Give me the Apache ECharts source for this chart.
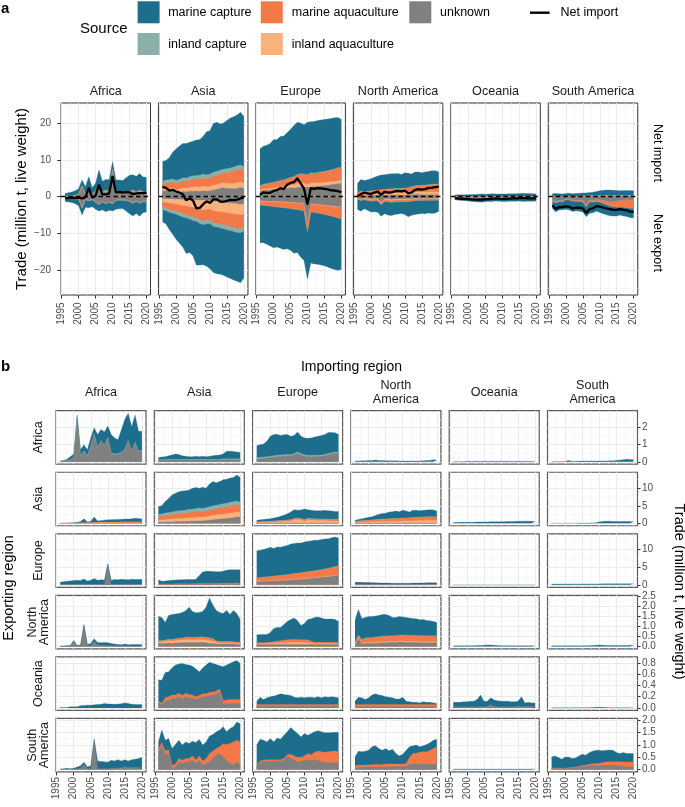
<!DOCTYPE html>
<html><head><meta charset="utf-8">
<script src="https://cdn.jsdelivr.net/npm/echarts@6/dist/echarts.min.js"></script>
<style>html,body{margin:0;padding:0;background:#fff}#c{width:685px;height:807px}</style>
</head><body><div id="c"></div>
<script>
// ---------------- DATA (million t, live weight) ----------------
const years = [1996,1997,1998,1999,2000,2001,2002,2003,2004,2005,2006,2007,2008,2009,2010,2011,2012,2013,2014,2015,2016,2017,2018,2019,2020];
const regionKeys = ['AF','AS','EU','NA','OC','SA'];
const regionNames = ['Africa','Asia','Europe','North America','Oceania','South America'];
const regionNamesB = ['Africa','Asia','Europe','North\nAmerica','Oceania','South\nAmerica'];
const sourceKeys = ['unk','iaq','maq','icap','mcap'];
const sourceNames = ['unknown','inland aquaculture','marine aquaculture','inland capture','marine capture'];
const sourceColors = ['#808080','#F9B27D','#F47948','#8BB0AA','#1C6E8C'];
const xMajor = [1995,2000,2005,2010,2015,2020];
const xMinor = [1997.5,2002.5,2007.5,2012.5,2017.5];
const aMajor = [-20,-10,0,10,20];
const aMinor = [-25,-15,-5,5,15,25];
const bMajor = [[0,1,2],[0,5,10],[0,5,10],[0,0.5,1,1.5,2,2.5],[0,0.2,0.4,0.6,0.8],[0,0.5,1,1.5,2]];
const bMinor = [[0.5,1.5,2.5],[2.5,7.5,12.5],[2.5,7.5,12.5],[0.25,0.75,1.25,1.75,2.25],[0.1,0.3,0.5,0.7],[0.25,0.75,1.25,1.75]];

// exporter_importer_source
const AF_AF_unk  = [.02,.03,.05,.1,.2,2.6,.3,.6,.3,.9,1.6,.8,1.2,.9,1.4,.5,.4,.45,.5,.7,1.2,.6,1.1,.6,.6];
const AF_AF_icap = [.01,.01,.02,.03,.04,.05,.05,.05,.05,.05,.05,.05,.05,.05,.05,.05,.05,.05,.05,.05,.05,.05,.05,.05,.05];
const AF_AF_mcap = [.02,.04,.08,.17,.21,.1,.35,.35,.35,.45,.35,.75,.65,.8,.65,1.05,.95,.8,1.35,1.75,1.6,1.4,1.6,1.15,1.15];
const AF_AS_unk  = [.1,.1,.1,.1,.1,.1,.1,.1,.1,.1,.1,.1,.1,.1,.1,.1,.1,.1,.1,.12,.12,.12,.12,.12,.12];
const AF_AS_icap = [.04,.04,.04,.05,.05,.05,.05,.05,.05,.05,.05,.05,.05,.05,.05,.05,.05,.05,.05,.05,.05,.05,.05,.05,.05];
const AF_AS_mcap = [.11,.14,.16,.2,.25,.3,.27,.2,.17,.15,.15,.17,.15,.17,.15,.18,.2,.23,.25,.28,.45,.45,.43,.41,.38];
const AF_EU_unk  = [.15,.18,.2,.22,.25,.28,.3,.32,.33,.35,.35,.4,.5,.4,.33,.3,.3,.3,.3,.32,.35,.4,.45,.5,.48];
const AF_EU_icap = [.08,.08,.08,.08,.08,.08,.08,.08,.08,.08,.08,.08,.08,.08,.08,.08,.08,.08,.08,.08,.08,.08,.08,.08,.08];
const AF_EU_mcap = [.72,.74,.77,.9,1.17,1.24,1.24,1.15,1.17,1.17,1.07,1.07,1.17,1.02,.99,1.0,1.02,1.07,1.12,1.15,1.17,1.24,1.19,1.12,1.04];
const AF_NA_mcap = [.05,.05,.06,.06,.07,.08,.1,.08,.07,.06,.06,.06,.06,.05,.05,.05,.05,.05,.05,.05,.06,.07,.08,.12,.1];
const AF_OC_mcap = [.02,.02,.02,.02,.03,.03,.03,.03,.03,.03,.03,.03,.03,.03,.03,.03,.03,.03,.03,.03,.03,.03,.03,.03,.03];
const AF_SA_mcap = [.01,.01,.01,.01,.02,.08,.03,.03,.04,.05,.05,.05,.05,.05,.05,.05,.05,.06,.06,.08,.1,.12,.15,.14,.12];

const AS_AF_unk  = [.01,.01,.01,.02,.02,.03,.05,.05,.05,.05,.05,.05,.05,.05,.05,.05,.05,.05,.05,.05,.05,.05,.05,.05,.05];
const AS_AF_iaq  = [0,0,.01,.02,.03,.04,.05,.05,.06,.07,.08,.09,.1,.1,.1,.1,.1,.1,.1,.1,.1,.1,.1,.1,.1];
const AS_AF_maq  = [0,.01,.02,.03,.04,.06,.08,.1,.12,.14,.16,.18,.2,.2,.22,.24,.25,.26,.27,.28,.28,.3,.3,.3,.28];
const AS_AF_mcap = [.01,.01,.01,.03,.06,.17,.32,1.1,.17,.34,1.51,.38,.45,.55,.63,.66,.7,.69,.73,.77,.77,.85,1.0,.95,.77];
const AS_AS_unk  = [.3,.3,.35,.4,.4,.45,.5,.5,.55,.6,.6,.65,.7,.7,.8,.9,1.0,1.1,1.2,1.3,1.4,1.5,1.6,1.8,1.7];
const AS_AS_iaq  = [.6,.65,.7,.75,.8,.85,.9,.9,.95,1.0,1.0,1.05,1.1,1.05,1.1,1.15,1.2,1.25,1.3,1.3,1.35,1.4,1.45,1.5,1.4];
const AS_AS_maq  = [.9,1.0,1.1,1.15,1.2,1.3,1.3,1.35,1.4,1.5,1.5,1.55,1.6,1.5,1.6,1.7,1.7,1.8,1.8,1.9,1.9,2.0,2.1,2.0,1.9];
const AS_AS_icap = [.7,.75,.8,.8,.85,.85,.9,.9,.9,.95,.95,1.0,1.0,1.0,1.0,1.0,1.05,1.05,1.05,1.1,1.1,1.1,1.1,1.1,1.0];
const AS_AS_mcap = [2.3,2.3,3.25,4.0,4.85,5.15,5.4,5.55,5.5,5.45,5.95,5.95,5.6,6.05,5.5,6.45,6.95,6.4,6.55,6.8,6.85,6.9,6.85,7.4,7.1];
const AS_EU_unk  = [.1,.1,.1,.1,.1,.1,.1,.1,.1,.1,.1,.1,.1,.1,.1,.1,.1,.1,.1,.1,.1,.1,.1,.1,.1];
const AS_EU_iaq  = [.15,.18,.2,.22,.25,.3,.35,.4,.45,.5,.6,.9,1.0,.9,.5,.9,.8,.75,.7,.7,.7,.65,.6,.6,.6];
const AS_EU_maq  = [.1,.12,.15,.15,.18,.2,.22,.25,.28,.3,.3,.35,.35,.35,.4,.4,.4,.4,.4,.4,.4,.4,.4,.4,.4];
const AS_EU_icap = [.05,.05,.05,.05,.05,.05,.05,.05,.05,.05,.05,.05,.05,.05,.05,.05,.05,.05,.05,.05,.05,.05,.05,.05,.05];
const AS_EU_mcap = [.5,.55,.6,.68,.72,.85,.98,1.2,1.42,1.75,2.15,2.5,2.2,2.4,3.05,2.45,2.35,2.3,2.35,2.35,2.45,2.4,2.35,2.25,2.25];
const AS_NA_unk  = [.1,.1,.1,.1,.1,.1,.1,.1,.1,.1,.1,.1,.1,.1,.1,.1,.1,.1,.1,.1,.1,.1,.1,.1,.1];
const AS_NA_iaq  = [.2,.22,.25,.28,.3,.33,.36,.4,.42,.45,.48,.5,.52,.5,.55,.58,.6,.62,.65,.68,.7,.72,.75,.72,.7];
const AS_NA_maq  = [.3,.33,.36,.4,.45,.5,.55,.6,.62,.65,.7,.72,.75,.72,.8,.82,.85,.88,.9,.92,.95,.98,1.0,1.0,.95];
const AS_NA_icap = [.05,.05,.05,.05,.05,.05,.05,.05,.05,.05,.05,.05,.05,.05,.05,.05,.05,.05,.05,.05,.05,.05,.05,.05,.05];
const AS_NA_mcap = [.25,.4,.54,.67,.8,.92,1.14,1.45,1.61,1.65,1.87,1.93,2.08,1.93,2.2,1.95,1.6,2.05,2.0,1.85,1.9,1.95,2.0,1.93,1.7];
const AS_OC_mcap = [.25,.27,.28,.3,.3,.32,.33,.35,.36,.38,.4,.42,.43,.45,.45,.48,.5,.52,.55,.58,.6,.62,.6,.58,.5];
const AS_SA_mcap = [.03,.03,.03,.04,.04,.05,.05,.05,.06,.06,.07,.08,.1,.2,.4,.55,.6,.6,.55,.55,.5,.5,.5,.5,.45];

const EU_AF_unk  = [.1,.1,.1,.1,.1,.1,.1,.1,.1,.1,.1,.1,.1,.1,5.6,.1,.1,.1,.1,.1,.1,.1,.1,.1,.1];
const EU_AF_mcap = [.6,.8,.9,1.0,1.1,1.2,1.1,1.55,1.0,1.2,1.65,1.2,1.3,1.25,.3,1.2,1.4,1.3,1.5,1.4,1.3,1.5,1.4,1.4,1.5];
const EU_AS_unk  = [.08,.08,.08,.08,.08,.08,.08,.08,.08,.08,.08,.08,.08,.08,.08,.08,.08,.08,.08,.08,.08,.08,.08,.08,.08];
const EU_AS_maq  = [.15,.15,.15,.15,.18,.2,.2,.2,.22,.22,.25,.25,.28,.3,.3,.3,.32,.32,.35,.35,.38,.4,.4,.42,.42];
const EU_AS_mcap = [1.17,.77,.87,.97,1.04,1.07,1.12,1.17,1.2,1.2,1.17,1.22,2.24,3.22,3.42,3.42,3.35,3.3,3.27,3.37,3.64,3.72,3.72,3.7,3.7];
const EU_EU_unk  = [.9,.95,1.0,1.0,1.05,1.1,1.15,1.2,1.25,1.3,1.35,1.4,1.5,1.55,1.6,1.7,1.8,1.9,2.0,2.1,2.2,2.3,2.4,2.5,2.6];
const EU_EU_iaq  = [.15,.15,.15,.15,.15,.15,.15,.15,.15,.15,.15,.15,.15,.15,.15,.15,.15,.15,.15,.15,.15,.15,.15,.15,.15];
const EU_EU_maq  = [.85,.9,.95,1.05,1.1,1.15,1.2,1.25,1.3,1.35,1.45,1.55,1.55,1.65,1.75,1.75,1.8,1.85,1.9,1.95,2.05,2.15,2.25,2.45,2.45];
const EU_EU_icap = [.05,.05,.05,.05,.05,.05,.05,.05,.05,.05,.05,.05,.05,.05,.05,.05,.05,.05,.05,.05,.05,.05,.05,.05,.05];
const EU_EU_mcap = [7.55,7.65,7.75,7.95,8.15,7.75,8.05,7.85,8.05,8.15,8.4,8.45,8.45,8.3,8.45,8.55,8.5,8.55,8.4,8.45,8.35,8.25,8.35,8.25,7.85];
const EU_NA_maq  = [0,0,0,0,0,0,0,0,0,0,0,0,0,0,0,0,0,.02,.03,.04,.05,.06,.08,.1,.1];
const EU_NA_mcap = [.7,.72,.7,.68,.65,.62,.6,.55,.5,.5,.5,.45,.45,.45,.45,.45,.48,.47,.47,.5,.5,.5,.52,.5,.5];
const EU_OC_mcap = [.04,.04,.04,.04,.04,.04,.04,.04,.04,.04,.04,.04,.04,.04,.04,.04,.04,.04,.04,.04,.04,.04,.04,.04,.04];
const EU_SA_mcap = [.22,.22,.22,.23,.23,.24,.24,.25,.25,.25,.26,.26,.27,.27,.27,.28,.28,.28,.28,.28,.29,.29,.29,.3,.3];

const NA_AF_unk  = [.02,.02,.03,.05,.28,.03,.04,1.05,.04,.05,.25,.08,.06,.06,.05,.04,.03,.03,.02,.03,.02,.02,.02,.02,.02];
const NA_AF_mcap = [0,0,0,0,.02,.02,.04,.05,.06,.1,.13,.12,.12,.14,.13,.11,.09,.07,.06,.09,.06,.08,.08,.08,.08];
const NA_AS_unk  = [.15,.15,.15,.17,.15,.17,.18,.18,.2,.2,.18,.2,.2,.2,.18,.15,.15,.12,.12,.12,.12,.12,.12,.1,.1];
const NA_AS_iaq  = [.08,.08,.1,.12,.12,.12,.14,.14,.15,.15,.15,.15,.15,.14,.14,.14,.12,.08,.06,.06,.06,.06,.05,.05,.05];
const NA_AS_maq  = [.04,.05,.05,.05,.06,.08,.08,.08,.1,.1,.1,.1,.1,.12,.12,.12,.1,.06,.05,.05,.05,.05,.05,.05,.05];
const NA_AS_icap = [.02,.02,.02,.02,.02,.02,.02,.02,.02,.02,.02,.02,.02,.02,.02,.02,.02,.02,.02,.02,.02,.02,.02,.02,.02];
const NA_AS_mcap = [1.21,1.15,.88,1.19,1.25,1.23,1.23,1.28,1.31,1.48,1.3,1.21,1.23,1.27,1.49,1.99,1.66,1.52,1.45,1.4,1.55,1.35,1.56,1.43,1.13];
const NA_EU_unk  = [.1,.1,.1,.1,.1,.1,.1,.1,.1,.1,.1,.1,.1,.1,.1,.1,.1,.1,.1,.1,.1,.1,.1,.1,.1];
const NA_EU_iaq  = [.05,.05,.05,.05,.06,.06,.07,.08,.09,.1,.1,.1,.1,.1,.1,.08,.06,.05,.05,.05,.05,.05,.05,.05,.05];
const NA_EU_maq  = [.03,.03,.04,.05,.06,.08,.1,.1,.12,.14,.15,.16,.15,.14,.14,.15,.1,.06,.06,.06,.06,.06,.06,.06,.06];
const NA_EU_mcap = [.4,.42,.41,.4,.48,.66,.68,.67,.79,.91,1.0,1.06,.93,.71,.81,1.02,1.12,1.24,1.26,1.21,1.16,1.16,1.16,1.14,1.04];
const NA_NA_unk  = [.05,.4,.12,.15,.15,.15,.16,.17,.18,.18,.2,.2,.2,.22,.22,.2,.2,.2,.2,.18,.18,.18,.18,.18,.18];
const NA_NA_iaq  = [.03,.05,.05,.05,.05,.05,.05,.05,.05,.05,.05,.05,.05,.05,.05,.05,.05,.05,.05,.05,.05,.05,.05,.05,.05];
const NA_NA_maq  = [.1,.1,.15,.2,.22,.22,.24,.25,.26,.27,.26,.26,.27,.27,.28,.29,.28,.28,.28,.28,.28,.28,.28,.28,.27];
const NA_NA_icap = [.02,.02,.02,.02,.02,.02,.02,.02,.02,.02,.02,.02,.02,.02,.02,.02,.02,.02,.02,.02,.02,.02,.02,.02,.02];
const NA_NA_mcap = [1.1,1.28,1.06,1.03,1.06,1.06,1.05,1.06,1.09,1.08,1.02,.92,.91,.94,.9,.89,.87,.85,.83,.8,.82,.77,.75,.72,.68];
const NA_OC_mcap = [.03,.03,.03,.03,.04,.04,.04,.05,.05,.06,.07,.07,.06,.05,.04,.04,.04,.04,.03,.03,.03,.03,.03,.03,.03];
const NA_SA_mcap = [.03,.03,.03,.03,.03,.03,.03,.03,.03,.03,.04,.04,.05,.06,.07,.06,.05,.05,.05,.05,.05,.05,.05,.06,.06];

const OC_AF_mcap = [.01,.01,.01,.02,.02,.02,.04,.045,.05,.05,.055,.06,.065,.08,.07,.07,.065,.07,.075,.09,.08,.065,.06,.06,.06];
const OC_AS_unk  = [.09,.05,.12,.13,.17,.17,.2,.16,.2,.18,.17,.15,.17,.2,.2,.22,.22,.25,.28,.08,.08,.08,.08,.08,.08];
const OC_AS_maq  = [.04,.03,.06,.07,.06,.06,.06,.06,.06,.06,.06,.05,.05,.05,.05,.06,.06,.05,.05,.05,.06,.07,.07,.07,.07];
const OC_AS_mcap = [.37,.41,.45,.44,.48,.53,.52,.57,.51,.52,.51,.49,.42,.46,.51,.53,.51,.47,.42,.6,.62,.64,.67,.69,.64];
const OC_EU_unk  = [.03,.03,.03,.03,.03,.03,.03,.03,.03,.03,.03,.03,.03,.03,.03,.03,.03,.03,.03,.03,.03,.03,.03,.03,.03];
const OC_EU_maq  = [.03,.03,.03,.03,.03,.03,.03,.03,.03,.03,.03,.03,.03,.03,.03,.03,.03,.03,.03,.03,.03,.03,.03,.03,.03];
const OC_EU_mcap = [.06,.13,.09,.12,.14,.15,.17,.19,.18,.17,.16,.13,.12,.13,.12,.13,.13,.12,.14,.12,.14,.13,.14,.13,.12];
const OC_NA_unk  = [.02,.02,.02,.02,.02,.02,.02,.02,.02,.02,.02,.02,.02,.02,.02,.02,.02,.02,.02,.02,.02,.02,.02,.02,.02];
const OC_NA_maq  = [.04,.04,.04,.04,.04,.04,.04,.04,.04,.04,.04,.04,.04,.04,.04,.04,.04,.04,.04,.04,.04,.04,.04,.04,.04];
const OC_NA_mcap = [.06,.13,.12,.09,.12,.17,.19,.17,.16,.14,.13,.12,.1,.1,.13,.06,.05,.04,.04,.03,.05,.04,.04,.03,.02];
const OC_OC_unk  = [.02,.02,.02,.02,.02,.02,.02,.02,.02,.02,.03,.06,.03,.02,.02,.02,.02,.02,.02,.03,.03,.03,.03,.03,.03];
const OC_OC_mcap = [.08,.08,.08,.09,.09,.1,.1,.13,.21,.1,.09,.12,.11,.11,.1,.1,.1,.09,.09,.09,.17,.06,.07,.06,.06];
const OC_SA_mcap = [.003,.003,.003,.003,.003,.003,.003,.003,.003,.003,.004,.005,.008,.012,.015,.012,.008,.006,.005,.004,.004,.004,.004,.004,.004];

const SA_AF_unk  = [.01,.01,.02,.01,.02,.03,.05,.2,.03,.03,1.2,.03,.03,.03,.03,.04,.05,.06,.07,.1,.08,.08,.08,.08,.08];
const SA_AF_mcap = [.01,.02,.03,.02,.03,.07,.1,.1,.07,.12,.05,.32,.3,.29,.27,.34,.3,.34,.28,.3,.27,.32,.34,.37,.42];
const SA_AS_unk  = [.65,.99,.58,.65,.04,.1,.31,.25,.31,.31,.38,.24,.38,.18,.25,.31,.45,.58,.65,.51,.38,.24,.2,.31,.2];
const SA_AS_maq  = [.15,.11,.17,.15,.12,.12,.14,.13,.14,.14,.17,.16,.17,.17,.2,.34,.3,.27,.27,.54,.62,.81,.92,.88,.92];
const SA_AS_mcap = [.32,.5,.44,.46,.69,.79,.74,.61,.67,.6,.6,.7,.67,.64,.67,.71,.67,.68,.68,.68,.53,.61,.61,.74,.74];
const SA_EU_unk  = [.18,.3,.33,.34,.34,.34,.34,.34,.38,.54,.45,.4,.31,.33,.38,.38,.38,.38,.38,.31,.27,.27,.27,.27,.27];
const SA_EU_maq  = [.02,.05,.05,.06,.06,.06,.06,.06,.07,.06,.17,.15,.19,.17,.17,.27,.22,.32,.37,.41,.43,.45,.47,.48,.45];
const SA_EU_mcap = [.79,.88,.81,.72,.86,.72,.88,.83,.94,.93,1.08,1.02,.96,.82,.91,.74,.86,.83,.82,.81,.79,.77,.76,.76,.78];
const SA_NA_unk  = [.06,.08,.09,.1,.1,.1,.1,.1,.1,.1,.11,.12,.12,.12,.12,.13,.2,.24,.23,.22,.22,.21,.21,.21,.2];
const SA_NA_maq  = [.09,.1,.09,.08,.08,.09,.1,.1,.1,.12,.11,.1,.1,.1,.1,.1,.3,.41,.43,.48,.5,.51,.57,.64,.72];
const SA_NA_mcap = [.36,.56,.54,.56,.6,.73,.76,.65,.58,.63,.54,.6,.43,.33,.4,.55,.42,.31,.33,.22,.24,.29,.31,.34,.31];
const SA_OC_mcap = [.02,.02,.02,.02,.02,.02,.02,.02,.02,.02,.02,.02,.02,.02,.02,.02,.02,.02,.02,.02,.02,.02,.02,.02,.02];
const SA_SA_unk  = [.05,.05,.05,.05,.05,.06,.07,.08,.1,.12,.13,.15,.15,.15,.15,.16,.17,.18,.17,.15,.14,.12,.11,.1,.1];
const SA_SA_maq  = [.01,.01,.01,.01,.01,.01,.02,.02,.03,.04,.05,.06,.08,.09,.1,.12,.14,.14,.15,.17,.18,.19,.2,.21,.21];
const SA_SA_mcap = [.45,.49,.43,.36,.45,.44,.36,.37,.42,.46,.4,.47,.51,.54,.53,.48,.47,.47,.46,.37,.33,.38,.34,.34,.34];

// lookup table built from the arrays above
const flows = {
  AF_AF_unk, AF_AF_icap, AF_AF_mcap, AF_AS_unk, AF_AS_icap, AF_AS_mcap, AF_EU_unk, AF_EU_icap, AF_EU_mcap, AF_NA_mcap, AF_OC_mcap, AF_SA_mcap,
  AS_AF_unk, AS_AF_iaq, AS_AF_maq, AS_AF_mcap, AS_AS_unk, AS_AS_iaq, AS_AS_maq, AS_AS_icap, AS_AS_mcap,
  AS_EU_unk, AS_EU_iaq, AS_EU_maq, AS_EU_icap, AS_EU_mcap, AS_NA_unk, AS_NA_iaq, AS_NA_maq, AS_NA_icap, AS_NA_mcap, AS_OC_mcap, AS_SA_mcap,
  EU_AF_unk, EU_AF_mcap, EU_AS_unk, EU_AS_maq, EU_AS_mcap, EU_EU_unk, EU_EU_iaq, EU_EU_maq, EU_EU_icap, EU_EU_mcap, EU_NA_maq, EU_NA_mcap, EU_OC_mcap, EU_SA_mcap,
  NA_AF_unk, NA_AF_mcap, NA_AS_unk, NA_AS_iaq, NA_AS_maq, NA_AS_icap, NA_AS_mcap, NA_EU_unk, NA_EU_iaq, NA_EU_maq, NA_EU_mcap,
  NA_NA_unk, NA_NA_iaq, NA_NA_maq, NA_NA_icap, NA_NA_mcap, NA_OC_mcap, NA_SA_mcap,
  OC_AF_mcap, OC_AS_unk, OC_AS_maq, OC_AS_mcap, OC_EU_unk, OC_EU_maq, OC_EU_mcap, OC_NA_unk, OC_NA_maq, OC_NA_mcap, OC_OC_unk, OC_OC_mcap, OC_SA_mcap,
  SA_AF_unk, SA_AF_mcap, SA_AS_unk, SA_AS_maq, SA_AS_mcap, SA_EU_unk, SA_EU_maq, SA_EU_mcap, SA_NA_unk, SA_NA_maq, SA_NA_mcap, SA_OC_mcap, SA_SA_unk, SA_SA_maq, SA_SA_mcap
};
const zeros = years.map(() => 0);
function flow(e, i, s) { return flows[e + '_' + i + '_' + s] || zeros; }

// ---------------- LAYOUT ----------------
const FONT = '"Liberation Sans", Arial, Helvetica, sans-serif';
const A = {left: 61, step: 97.45, width: 89.5, top: 103, height: 192, range: [-26.8, 25.5]};
const B = {left: 56, step: 98.3, width: 90, top: 410.7, rowStep: 61.55, height: 53.5,
  ranges: [[-0.143, 3.0], [-0.69, 14.57], [-0.68, 14.28], [-0.12, 2.55], [-0.043, 0.905], [-0.098, 2.07]],
  decimals: [0, 0, 0, 1, 1, 1]};

const grids = [], xAxes = [], yAxes = [], series = [], graphics = [];

function addGrid(l, t, w, h, bc, bw) {
  grids.push({left: l, top: t, width: w, height: h, show: true, backgroundColor: '#fff',
    borderColor: bc, borderWidth: bw, containLabel: false, outerBoundsMode: 'none'});
  return grids.length - 1;
}
function addAxes(g, xo, yo) {
  xAxes.push({type: 'value', gridIndex: g, min: 1994.8, max: 2021.2, position: 'bottom',
    axisLine: {show: false, onZero: false},
    axisTick: {show: xo.ticks, length: 3.5, lineStyle: {color: '#333', width: 1}, customValues: xMajor},
    axisLabel: {show: xo.labels, customValues: xMajor, rotate: 90, margin: xo.margin, fontSize: 10, color: '#4D4D4D', fontFamily: FONT,
      formatter: v => String(Math.round(v))},
    splitLine: {show: true, lineStyle: {color: '#EBEBEB', width: 1}}});
  xAxes.push({type: 'value', gridIndex: g, min: 1994.8, max: 2021.2, position: 'top',
    axisLine: {show: false, onZero: false}, axisTick: {show: false, customValues: xMinor}, axisLabel: {show: false},
    splitLine: {show: true, lineStyle: {color: '#F3F3F3', width: 0.6}}});
  yAxes.push({type: 'value', gridIndex: g, min: yo.range[0], max: yo.range[1], position: yo.position,
    axisLine: {show: false, onZero: false},
    axisTick: {show: yo.ticks, length: yo.tickLen, lineStyle: {color: '#333', width: 1}, customValues: yo.major},
    axisLabel: {show: yo.labels, customValues: yo.major, margin: yo.margin, fontSize: 10, color: '#4D4D4D', fontFamily: FONT, formatter: yo.fmt},
    splitLine: {show: true, lineStyle: {color: '#EBEBEB', width: 1}}});
  yAxes.push({type: 'value', gridIndex: g, min: yo.range[0], max: yo.range[1], position: yo.position === 'left' ? 'right' : 'left',
    axisLine: {show: false, onZero: false}, axisTick: {show: false, customValues: yo.minor}, axisLabel: {show: false},
    splitLine: {show: true, lineStyle: {color: '#F3F3F3', width: 0.6}}});
}
// Stacked areas: each layer is filled from 0 up to its running total; layers are
// painted from the outermost inwards so every source shows as its own band.
function addStack(g, layers, sign) {
  const run = years.map(() => 0);
  const tops = layers.map(l => {
    if (!l) return null;
    l.vals.forEach((v, t) => { run[t] += v; });
    return run.slice();
  });
  for (let k = layers.length - 1; k >= 0; k--) {
    if (!layers[k]) continue;
    const c = sourceColors[layers[k].si];
    series.push({type: 'line', name: sourceNames[layers[k].si], xAxisIndex: 2 * g, yAxisIndex: 2 * g,
      data: years.map((y, t) => [y, sign * +tops[k][t].toFixed(4)]), symbol: 'none', showSymbol: false, silent: true, z: 2,
      lineStyle: {width: 0.3, color: c}, areaStyle: {color: c, opacity: 1, origin: 0}, itemStyle: {color: c}, color: c});
  }
}
function txt(text, x, y, o) {
  o = o || {};
  const al = o.align || 'center', va = o.valign || 'middle';
  return {type: 'text', x: x, y: y, rotation: o.rot || 0, silent: true, z: 100,
    style: {text: text, fill: o.color || '#000', fontSize: o.size || 12.5, fontFamily: FONT, fontWeight: o.weight || 'normal',
      textAlign: al, textVerticalAlign: va, align: al, verticalAlign: va, lineHeight: o.lh || undefined}};
}
const minusFmt = v => (v < 0 ? '\u2212' + (-v) : String(v));

// ---------------- PANEL A ----------------
for (let i = 0; i < 6; i++) {
  const g = addGrid(A.left + i * A.step, A.top, A.width, A.height, '#333', 1);
  addAxes(g, {ticks: true, labels: true, margin: 7.5},
    {range: A.range, major: aMajor, minor: aMinor, ticks: i === 0, labels: i === 0, position: 'left', margin: 10, tickLen: 3.7, fmt: minusFmt});
  const R = regionKeys[i];
  const net = years.map(() => 0);
  const impLayers = sourceKeys.map((s, si) => {
    const vals = years.map((y, t) => regionKeys.reduce((acc, E) => acc + flow(E, R, s)[t], 0));
    vals.forEach((v, t) => { net[t] += v; });
    return {si: si, vals: vals};
  });
  const expLayers = sourceKeys.map((s, si) => {
    const vals = years.map((y, t) => regionKeys.reduce((acc, I) => acc + flow(R, I, s)[t], 0));
    vals.forEach((v, t) => { net[t] -= v; });
    return {si: si, vals: vals};
  });
  addStack(g, impLayers, 1);
  addStack(g, expLayers, -1);
  series.push({type: 'line', name: 'Net import', xAxisIndex: 2 * g, yAxisIndex: 2 * g,
    data: years.map((y, t) => [y, +net[t].toFixed(4)]), symbol: 'none', showSymbol: false, silent: true, z: 6,
    lineStyle: {color: '#000', width: 2.3}, itemStyle: {color: '#000'},
    markLine: {silent: true, symbol: ['none', 'none'], label: {show: false}, animation: false,
      lineStyle: {color: '#000', type: [4.5, 3], width: 1.3}, data: [{yAxis: 0}]}});
  graphics.push(txt(regionNames[i], A.left + i * A.step + A.width / 2, 92, {color: '#1A1A1A', size: 12.6}));
}

// ---------------- PANEL B ----------------
for (let r = 0; r < 6; r++) {
  for (let c = 0; c < 6; c++) {
    const g = addGrid(B.left + c * B.step, B.top + r * B.rowStep, B.width, B.height, '#595959', 1.2);
    const dec = B.decimals[r];
    addAxes(g, {ticks: r === 5, labels: r === 5, margin: 5},
      {range: B.ranges[r], major: bMajor[r], minor: bMinor[r], ticks: c === 5, labels: c === 5, position: 'right', margin: 4.5, tickLen: 3,
       fmt: v => v.toFixed(dec)});
    const layers = sourceKeys.map((s, si) => {
      const arr = flows[regionKeys[r] + '_' + regionKeys[c] + '_' + s];
      return arr ? {si: si, vals: arr} : null;
    });
    addStack(g, layers, 1);
  }
  graphics.push(txt(regionNamesB[r], 38.3, B.top + r * B.rowStep + B.height / 2, {rot: Math.PI / 2, color: '#1A1A1A', size: 12.6, lh: 12.5}));
}
for (let c = 0; c < 6; c++) {
  graphics.push(txt(regionNamesB[c], B.left + c * B.step + B.width / 2, 392.5, {color: '#1A1A1A', size: 12.6, lh: 13.3}));
}

// ---------------- TEXT & LEGEND ----------------
graphics.push(txt('a', 1, 9, {align: 'left', weight: 'bold', size: 15}));
graphics.push(txt('b', 1, 367, {align: 'left', weight: 'bold', size: 15}));
graphics.push(txt('Trade (million t, live weight)', 21.5, 199, {rot: Math.PI / 2, size: 15}));
graphics.push(txt('Net import', 657, 153, {rot: -Math.PI / 2, size: 12.6}));
graphics.push(txt('Net export', 657, 243, {rot: -Math.PI / 2, size: 12.6}));
graphics.push(txt('Importing region', 351.5, 366.7, {size: 14}));
graphics.push(txt('Exporting region', 9, 588, {rot: Math.PI / 2, size: 14.5}));
graphics.push(txt('Trade (million t, live weight)', 679, 591.5, {rot: -Math.PI / 2, size: 14.5}));
graphics.push(txt('Source', 80, 29, {align: 'left', size: 15}));
const legendItems = [
  {si: 4, x: 137.6, y: 1.3, tx: 168.2, ty: 12.7},
  {si: 2, x: 260.8, y: 1.3, tx: 291.8, ty: 12.7},
  {si: 0, x: 409.3, y: 1.3, tx: 440, ty: 12.7},
  {si: 3, x: 137.6, y: 33, tx: 168.2, ty: 44.3},
  {si: 1, x: 260.8, y: 33, tx: 291.8, ty: 44.3}
];
legendItems.forEach(it => {
  graphics.push({type: 'rect', silent: true, z: 100, shape: {x: it.x, y: it.y, width: 22, height: 22}, style: {fill: sourceColors[it.si]}});
  graphics.push(txt(sourceNames[it.si], it.tx, it.ty, {align: 'left', size: 12.5}));
});
graphics.push({type: 'rect', silent: true, z: 100, shape: {x: 530, y: 11.5, width: 19.6, height: 2.4}, style: {fill: '#000'}});
graphics.push(txt('Net import', 560.5, 12.7, {align: 'left', size: 12.5}));

const chart = echarts.init(document.getElementById('c'), null, {renderer: 'canvas'});
chart.setOption({
  animation: false,
  backgroundColor: '#fff',
  grid: grids, xAxis: xAxes, yAxis: yAxes, series: series,
  graphic: {elements: graphics}
});
</script></body></html>
